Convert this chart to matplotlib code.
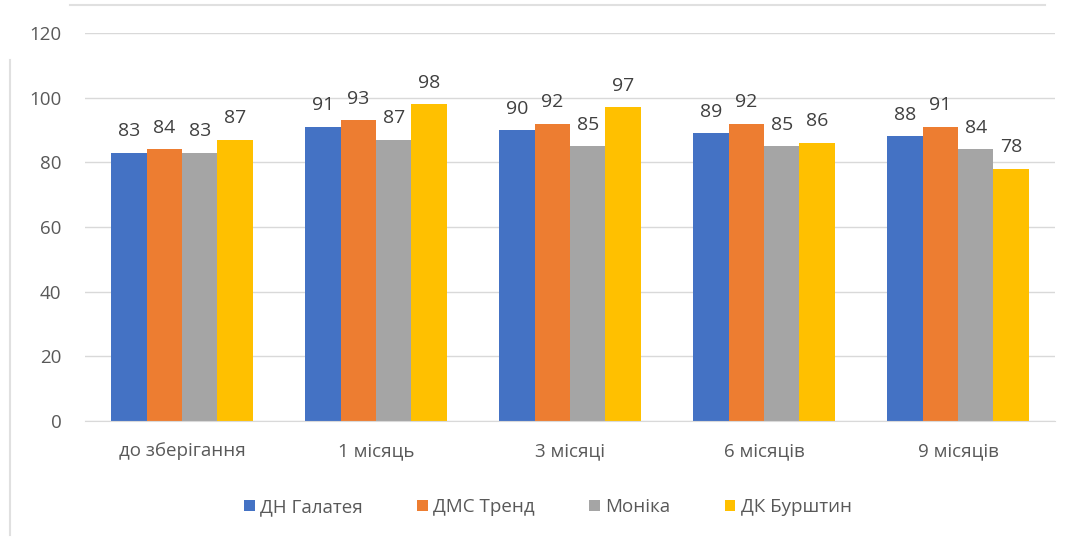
import matplotlib
matplotlib.use("Agg")
import matplotlib.pyplot as plt
import numpy as np
from matplotlib.lines import Line2D

plt.rcParams['font.family'] = ['Open Sans', 'Noto Sans', 'DejaVu Sans']

categories = ["до зберігання", "1 місяць", "3 місяці", "6 місяців", "9 місяців"]
series_names = ["ДН Галатея", "ДМС Тренд", "Моніка", "ДК Бурштин"]
galateia = [83, 91, 90, 89, 88]
dms_trend = [84, 93, 92, 92, 91]
monika = [83, 87, 85, 85, 84]
burshtyn = [87, 98, 97, 86, 78]
yticks = [0, 20, 40, 60, 80, 100, 120]

colors = ["#4472C4", "#ED7D31", "#A5A5A5", "#FFC000"]
series = [galateia, dms_trend, monika, burshtyn]

fig = plt.figure(figsize=(10.81, 5.40), dpi=100)
ax = fig.add_axes([85/1081, 1-421/540, 970/1081, 388/540])

x = np.arange(len(categories))
w = 0.182
for i, (vals, c, name) in enumerate(zip(series, colors, series_names)):
    pos = x + (i - 1.5) * w
    bars = ax.bar(pos, vals, width=w, color=c, label=name, zorder=3)
    for b, v in zip(bars, vals):
        ax.annotate(str(v), (b.get_x() + b.get_width()/2, v), xytext=(0, 9),
                    textcoords="offset points", ha="center", va="bottom",
                    fontsize=14, color="#404040")

ax.set_xlim(-0.5, len(categories) - 0.5)
ax.set_ylim(0, 120)
ax.set_yticks(yticks)
ax.set_yticklabels([str(t) for t in yticks])
ax.set_xticks(x)
ax.set_xticklabels(categories)
ax.tick_params(axis='both', length=0, labelsize=13.5, labelcolor="#595959")
ax.tick_params(axis='x', pad=15)
ax.tick_params(axis='y', pad=17)
ax.grid(axis='y', color="#D9D9D9", linewidth=1, zorder=0)
for s in ["top", "right", "left"]:
    ax.spines[s].set_visible(False)
ax.spines["bottom"].set_color("#D9D9D9")
ax.spines["bottom"].set_zorder(4)

leg = fig.legend(loc="center", bbox_to_anchor=(548/1081, 1-507/540), ncol=4,
                 frameon=False, fontsize=13.5, handlelength=0.55, handleheight=0.55,
                 handletextpad=0.3, columnspacing=2.9)
for t in leg.get_texts():
    t.set_color("#595959")

fig.add_artist(Line2D([70/1081, 1045/1081], [1-5/540, 1-5/540], color="#E0E0E0", lw=1.5))
fig.add_artist(Line2D([10/1081, 10/1081], [1-60/540, 1-535/540], color="#E0E0E0", lw=1.5))

fig.savefig("out.png", dpi=100, facecolor="white")
